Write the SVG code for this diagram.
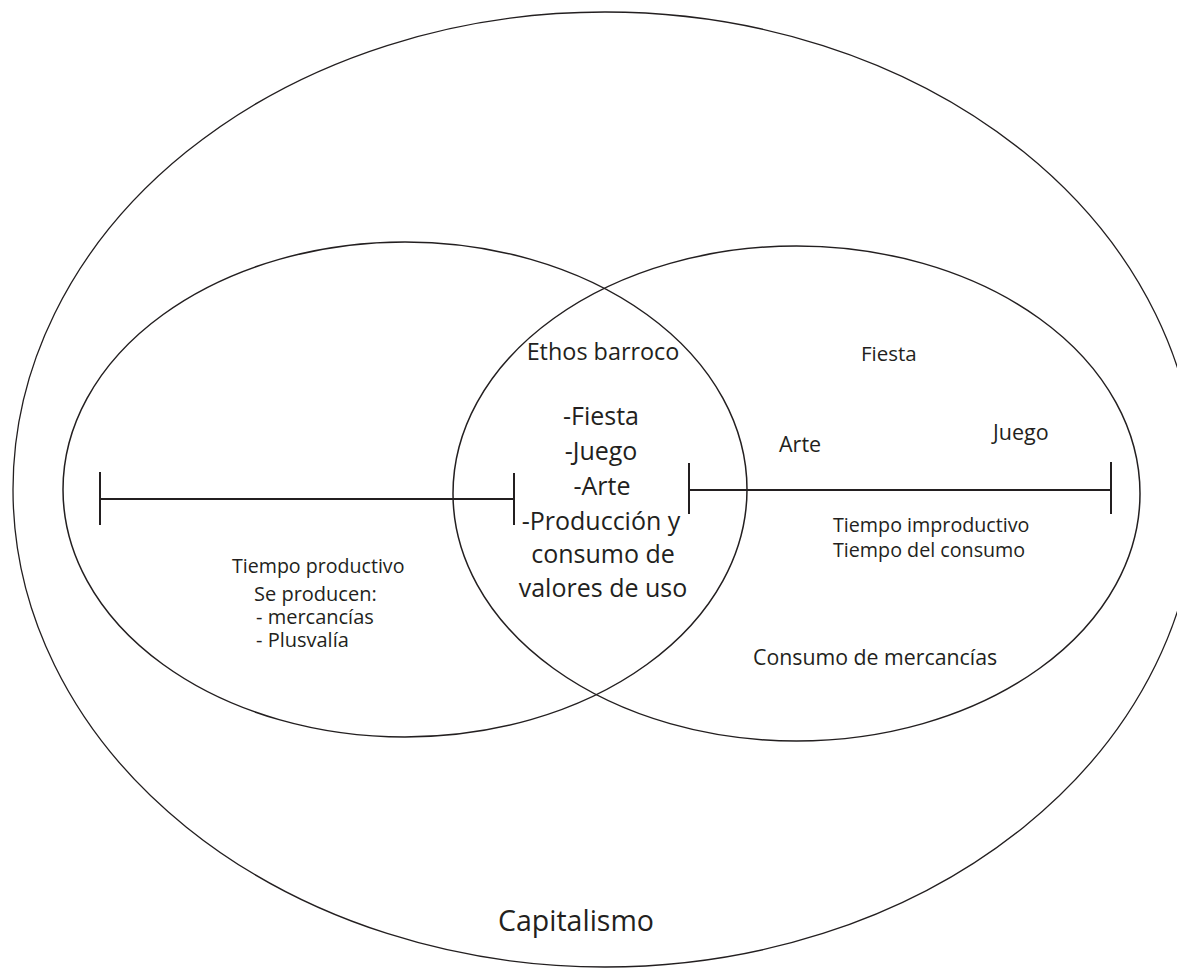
<svg xmlns="http://www.w3.org/2000/svg" width="1177" height="969" viewBox="0 0 1177 969">
<style>
.shape{fill:none;stroke:#231f20;stroke-width:1.5}
.outer{fill:none;stroke:#231f20;stroke-width:1.3}
.bar{fill:none;stroke:#231f20;stroke-width:2}
text{font-family:"Open Sans","Noto Sans","Liberation Sans",sans-serif;fill:#231f20}
.c{text-anchor:middle}
</style>
<rect width="1177" height="969" fill="#ffffff"/>
<g id="capitalismo">
<ellipse class="outer" cx="605" cy="489.5" rx="592" ry="477.5"/>
<text class="c" x="576" y="931" font-size="28.5">Capitalismo</text>
</g>
<g id="tiempo-productivo">
<ellipse class="shape" cx="405" cy="489.5" rx="342" ry="247.5"/>
<text x="232" y="573" font-size="19.6">Tiempo productivo</text>
<text x="254" y="601" font-size="20">Se producen:</text>
<text x="256" y="624" font-size="20">- mercancías</text>
<text x="256" y="647" font-size="20">- Plusvalía</text>
</g>
<g id="tiempo-improductivo">
<ellipse class="shape" cx="796.5" cy="493.5" rx="343.5" ry="247.5"/>
<text x="861" y="361" font-size="20.5">Fiesta</text>
<text x="779" y="452" font-size="21.5">Arte</text>
<text x="993" y="440" font-size="21.5">Juego</text>
<text x="833" y="532" font-size="19.7">Tiempo improductivo</text>
<text x="833" y="557" font-size="19.7">Tiempo del consumo</text>
<text x="753" y="665" font-size="21.3">Consumo de mercancías</text>
</g>
<g id="ethos-barroco">
<text class="c" x="603" y="360" font-size="23.4">Ethos barroco</text>
<text class="c" x="601" y="425" font-size="25">-Fiesta</text>
<text class="c" x="601" y="460" font-size="25">-Juego</text>
<text class="c" x="602" y="495" font-size="25">-Arte</text>
<text class="c" x="601" y="530" font-size="25">-Producción y</text>
<text class="c" x="603" y="563" font-size="25">consumo de</text>
<text class="c" x="603" y="597" font-size="25">valores de uso</text>
</g>
<g id="connectors">
<path class="bar" d="M100 499H514M100 472V525M514 473V525"/>
<path class="bar" d="M689 490H1111M689 463V514M1111 462V514"/>
</g>
</svg>
